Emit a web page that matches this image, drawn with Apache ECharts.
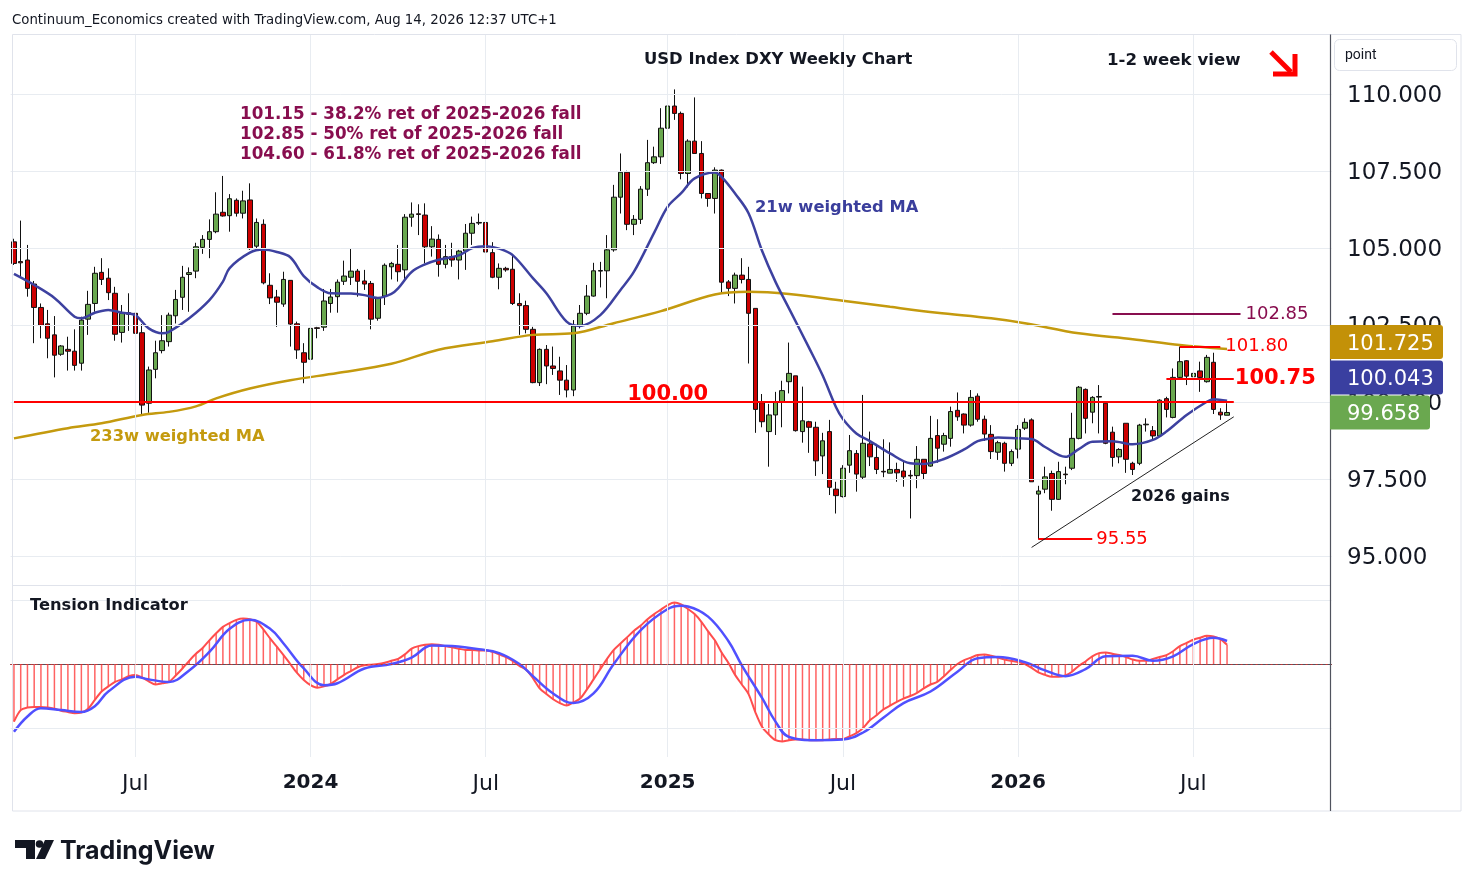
<!DOCTYPE html>
<html><head><meta charset="utf-8">
<script src="https://cdn.jsdelivr.net/npm/echarts@6/dist/echarts.min.js"></script>
<style>html,body{margin:0;padding:0;background:#fff;}#c{width:1474px;height:887px;}</style>
</head><body><div id="c"></div>
<script>
// ---------- data ----------
const firstWeek = [2023, 1, 27];   // Monday 2023-02-27 (weekly bars)
const weekCount = 196;             // visible weekly slots incl. empty right margin
const tickDates = ['2023-07-03','2024-01-01','2024-07-01','2025-01-06','2025-07-07','2026-01-05','2026-07-06'];
const tickTexts = ['Jul','2024','Jul','2025','Jul','2026','Jul'];
const priceTicks = [95, 97.5, 100, 102.5, 105, 107.5, 110];
const tensionTicks = [-1, 1];

const open = [
105.20,104.56,104.61,103.83,103.07,102.54,102.18,101.55,101.71,101.65,
101.26,102.69,103.20,104.21,104.02,103.53,102.26,102.90,102.88,102.25,
99.96,101.06,101.67,101.96,102.80,103.40,104.14,104.25,105.02,105.28,
105.53,106.16,106.05,106.55,106.13,106.56,105.06,105.77,103.79,103.41,
103.18,103.95,102.54,101.60,101.39,102.41,102.43,103.20,103.42,103.92,
104.05,104.25,103.93,103.85,102.72,103.44,104.39,104.47,104.29,106.00,
106.11,106.07,105.04,105.28,104.47,104.72,104.61,104.90,105.48,105.81,
105.83,104.85,104.05,104.34,104.31,103.20,103.13,102.36,100.63,101.71,
101.17,101.01,100.71,100.39,102.47,102.88,103.44,104.25,104.26,104.94,
106.65,107.46,105.77,105.93,106.91,107.77,107.96,108.89,109.61,109.37,
107.42,108.47,108.07,106.77,106.61,107.53,103.90,103.69,104.12,103.98,
103.04,99.98,99.04,99.58,100.01,100.66,100.85,99.04,99.36,99.18,
98.25,99.04,97.17,96.93,97.95,98.33,97.56,98.64,98.20,97.75,
97.69,97.81,97.76,97.62,97.61,98.14,97.92,98.91,98.63,98.82,
99.73,99.61,99.25,100.19,99.44,98.95,98.37,98.66,98.01,98.47,
99.15,99.42,97.01,97.17,97.68,96.84,97.66,97.85,98.82,100.41,
99.67,100.16,99.96,99.02,98.22,99.31,98.01,98.01,99.26,99.07,
98.90,100.11,99.50,100.80,101.34,100.82,101.01,100.66,101.29,99.67,
99.57];
const close = [
104.50,104.52,103.69,103.07,102.49,102.07,101.52,101.82,101.65,101.19,
102.66,103.17,104.18,103.98,103.55,102.20,102.88,102.85,102.23,99.90,
101.04,101.60,101.99,102.82,103.33,104.05,104.20,105.04,105.28,105.53,
106.10,106.04,106.60,106.13,106.53,104.98,105.83,103.87,103.38,103.24,
103.98,102.53,101.69,101.29,102.39,102.39,103.28,103.41,103.89,104.09,
104.25,103.92,103.83,102.69,103.39,104.44,104.50,104.23,106.00,106.10,
106.09,105.04,105.29,104.47,104.72,104.61,104.90,105.48,105.80,105.83,
104.87,104.05,104.34,104.29,103.20,103.13,102.36,100.63,101.71,101.17,
101.09,100.71,100.39,102.47,102.88,103.44,104.26,104.27,104.94,106.65,
107.46,105.77,105.93,106.91,107.77,107.96,108.89,109.61,109.37,107.42,
108.47,108.07,106.77,106.61,107.53,103.89,103.69,104.12,103.98,102.88,
99.76,99.36,99.58,100.01,100.37,100.93,99.07,99.39,99.18,98.09,
98.74,97.23,96.96,97.85,98.42,97.66,98.66,98.22,97.81,97.73,
97.81,97.70,97.57,97.60,98.14,97.68,98.82,98.50,98.91,99.69,
99.52,99.25,100.15,99.44,98.96,98.39,98.68,98.01,98.39,99.11,
99.34,97.41,97.11,97.57,96.84,97.74,97.64,98.82,100.48,99.47,
100.15,100.18,98.66,98.20,98.46,98.14,97.81,99.25,99.28,98.90,
100.06,99.76,100.80,101.31,100.84,100.93,100.80,101.45,99.76,99.58,
99.66];
const low = [
104.45,104.07,103.42,101.91,102.07,101.42,100.80,101.50,101.02,101.02,
101.02,102.18,102.93,103.80,103.31,101.99,101.93,102.31,102.20,99.61,
99.65,100.77,101.58,101.80,102.55,102.99,102.93,104.02,104.81,104.67,
105.48,106.02,105.53,106.02,105.96,104.94,104.94,103.82,103.18,102.44,
103.09,101.80,101.40,100.61,101.31,102.07,102.31,102.90,102.90,103.80,
103.80,103.42,103.64,102.36,102.64,103.15,103.98,103.91,103.91,105.69,
105.42,104.50,104.72,104.07,104.34,104.39,103.98,104.29,105.10,105.75,
104.83,104.02,103.66,104.23,103.15,102.18,102.23,100.61,100.52,100.58,
100.88,100.23,100.15,100.19,102.39,102.82,103.42,103.72,103.37,104.88,
106.12,105.58,105.42,105.78,106.69,107.73,107.73,107.75,109.16,107.23,
106.97,108.07,106.61,106.34,106.12,103.53,103.44,103.20,103.85,101.25,
99.00,99.18,97.90,98.93,99.18,100.28,99.04,98.68,98.35,97.60,
97.66,96.98,96.38,96.90,97.70,97.09,97.49,97.92,97.66,97.56,
97.69,97.41,97.25,96.22,97.20,97.47,97.90,98.03,98.39,98.55,
99.39,98.98,99.20,99.36,98.74,98.15,98.12,97.74,97.92,98.17,
99.09,97.41,95.54,97.04,96.47,96.82,97.33,97.79,98.79,98.98,
99.31,98.98,98.63,97.90,98.01,97.70,97.63,97.95,99.04,98.79,
98.87,99.50,99.47,100.77,100.55,100.55,100.33,100.63,99.61,99.42,
99.57];
const high = [
105.30,105.89,105.10,103.93,103.20,102.99,102.79,101.85,102.12,102.36,
102.77,103.61,104.39,104.67,104.34,103.74,103.15,103.53,103.53,102.53,
101.15,101.99,102.82,102.90,103.64,104.42,104.37,105.17,105.42,105.93,
106.81,107.34,106.75,106.61,106.86,107.10,105.96,105.93,104.18,103.64,
104.23,103.96,102.61,101.91,103.09,102.44,103.67,103.67,103.98,104.59,
104.97,104.32,104.29,103.93,103.39,104.50,104.55,105.10,106.10,106.48,
106.42,106.45,105.71,105.44,105.10,105.17,104.94,105.78,106.02,106.12,
106.04,105.19,104.50,104.39,104.81,103.53,103.29,102.44,101.74,101.85,
101.80,101.47,101.20,102.66,103.15,103.80,104.52,104.55,105.42,107.05,
108.07,107.51,106.07,107.01,108.51,108.29,109.54,109.97,110.15,109.43,
108.53,109.89,108.47,106.77,107.62,107.55,103.96,104.20,104.67,104.39,
103.04,100.26,99.94,100.33,100.69,101.93,100.85,100.50,99.39,99.36,
99.00,99.42,97.41,97.95,98.93,98.44,100.23,99.04,98.64,98.79,
98.69,98.03,98.06,97.79,98.57,98.14,99.55,99.44,99.00,99.85,
100.31,99.63,100.39,100.28,99.56,99.25,98.74,98.71,98.46,99.25,
99.47,99.47,97.28,97.90,97.77,98.06,97.90,99.65,100.52,100.44,
100.19,100.55,100.01,99.20,98.50,99.31,98.06,99.29,99.47,99.22,
100.09,100.17,101.09,101.80,101.36,101.31,101.31,101.53,101.60,99.80,
99.96];

// moving averages: [week index, value]
const ma21 = [[0,104.16],[3,103.80],[6,103.38],[9,102.77],[10,102.72],[12,102.90],[14,102.99],[16,102.90],[18,102.82],[20,102.39],[22,102.23],[23,102.28],[26,102.72],[29,103.31],[31,103.91],[32,104.35],[35,104.85],[37,104.95],[39,104.87],[41,104.70],[43,104.09],[45,103.73],[47,103.53],[50,103.52],[52,103.47],[54,103.38],[56,103.51],[57,103.69],[59,104.22],[61,104.47],[63,104.62],[66,104.76],[68,105.00],[70,105.06],[72,104.98],[74,104.77],[77,104.02],[79,103.53],[82,102.61],[84,102.47],[87,102.82],[90,103.64],[92,104.23],[95,105.50],[97,106.34],[99,106.78],[101,107.26],[104,107.45],[105,107.31],[107,106.77],[109,106.13],[111,104.91],[113,103.90],[115,103.04],[118,101.75],[120,100.86],[122,99.82],[123,99.45],[125,98.98],[127,98.73],[130,98.33],[133,98.01],[135,97.99],[138,98.15],[141,98.46],[143,98.73],[145,98.82],[146,98.85],[149,98.82],[151,98.80],[153,98.54],[156,98.22],[158,98.47],[160,98.71],[163,98.73],[166,98.63],[169,98.77],[171,99.04],[174,99.58],[177,100.01],[178,100.09],[180,100.04]];
const ma233 = [[0,98.82],[8,99.15],[13,99.31],[19,99.58],[23,99.68],[27,99.86],[30,100.12],[35,100.44],[41,100.71],[48,100.94],[56,101.24],[63,101.70],[71,101.97],[77,102.18],[83,102.23],[89,102.56],[96,102.95],[104,103.49],[109,103.58],[115,103.51],[123,103.29],[130,103.09],[137,102.90],[145,102.72],[150,102.56],[158,102.23],[166,102.04],[173,101.85],[180,101.72]];

// tension indicator (arbitrary units)
const tensionRed = [
-0.90,-0.72,-0.68,-0.67,-0.67,-0.68,-0.70,-0.73,-0.75,-0.77,
-0.76,-0.70,-0.56,-0.43,-0.35,-0.28,-0.24,-0.19,-0.17,-0.21,
-0.27,-0.32,-0.30,-0.28,-0.18,-0.07,0.05,0.16,0.25,0.37,
0.48,0.58,0.64,0.69,0.71,0.70,0.66,0.54,0.40,0.27,
0.14,0.00,-0.14,-0.25,-0.33,-0.37,-0.35,-0.31,-0.24,-0.17,
-0.11,-0.05,-0.02,-0.01,0.00,0.02,0.05,0.08,0.15,0.24,
0.28,0.30,0.31,0.30,0.28,0.26,0.24,0.22,0.22,0.21,
0.21,0.19,0.15,0.11,0.05,-0.03,-0.09,-0.22,-0.38,-0.47,
-0.55,-0.61,-0.65,-0.60,-0.54,-0.40,-0.24,-0.08,0.08,0.22,
0.32,0.42,0.52,0.60,0.70,0.78,0.85,0.92,0.96,0.93,
0.86,0.78,0.66,0.51,0.37,0.18,0.02,-0.17,-0.32,-0.47,
-0.75,-0.98,-1.10,-1.19,-1.21,-1.19,-1.18,-1.18,-1.19,-1.19,
-1.19,-1.18,-1.17,-1.17,-1.13,-1.08,-1.00,-0.88,-0.80,-0.71,
-0.65,-0.59,-0.54,-0.50,-0.45,-0.38,-0.32,-0.28,-0.19,-0.09,
0.00,0.06,0.10,0.14,0.15,0.13,0.10,0.07,0.05,0.03,
0.00,-0.06,-0.13,-0.17,-0.20,-0.20,-0.18,-0.12,-0.03,0.04,
0.12,0.17,0.18,0.16,0.14,0.11,0.07,0.05,0.05,0.08,
0.11,0.14,0.20,0.28,0.33,0.38,0.41,0.44,0.43,0.39,
0.30];
const tensionBlue = [[0,-1.06],[2,-0.82],[4,-0.69],[7,-0.72],[10,-0.75],[12,-0.66],[14,-0.43],[18,-0.20],[20,-0.24],[23,-0.28],[26,-0.10],[29,0.19],[32,0.55],[35,0.69],[38,0.55],[40,0.32],[43,-0.07],[46,-0.33],[48,-0.30],[52,-0.07],[56,0.00],[59,0.10],[62,0.29],[65,0.28],[69,0.23],[72,0.17],[75,0.00],[77,-0.19],[80,-0.46],[83,-0.61],[86,-0.46],[89,0.00],[93,0.53],[97,0.86],[99,0.91],[100,0.90],[103,0.74],[106,0.36],[108,-0.02],[111,-0.53],[113,-0.90],[115,-1.14],[119,-1.19],[123,-1.18],[126,-1.07],[129,-0.84],[132,-0.61],[136,-0.43],[140,-0.12],[143,0.09],[146,0.11],[150,0.03],[153,-0.10],[156,-0.19],[159,-0.08],[162,0.12],[166,0.13],[169,0.05],[172,0.12],[175,0.31],[178,0.41],[180,0.36]];

// annotation levels: [startWeek, endWeek, value, label]
const levelLines = [
  [0, 181, 100.00, ''],
  [171, 181, 100.75, '100.75'],
  [173, 179, 101.80, '101.80'],
  [152, 160, 95.55, '95.55'],
  [163, 182, 102.85, '102.85']
];
const trendLine = [[151, 95.28], [181, 99.52]];
const lastValues = { ma233: 101.725, ma21: 100.043, close: 99.658 };
const fibText = ['101.15 - 38.2% ret of 2025-2026 fall','102.85 - 50% ret of 2025-2026 fall','104.60 - 61.8% ret of 2025-2026 fall'];

// ---------- build ----------
const categories = [];
const t0 = Date.UTC(firstWeek[0], firstWeek[1], firstWeek[2]);
for (let i = 0; i < weekCount; i++) categories.push(new Date(t0 + i * 7 * 86400000).toISOString().slice(0, 10));
const candles = open.map((o, i) => [o, close[i], low[i], high[i]]);

const FONT = 'DejaVu Sans';
const RED = '#ff0000', MAROON = '#880e4f';
const gridColor = '#e8ecf1';

const levelStyles = [
  {color: RED, label: null, dist: 5},
  {color: RED, label: {fontSize: 21, fontWeight: 'bold'}, dist: 1},
  {color: RED, label: {fontSize: 18}, dist: 5},
  {color: RED, label: {fontSize: 18}, dist: 4},
  {color: MAROON, label: {fontSize: 18}, dist: 5}
];
const levelData = levelLines.map((l, k) => {
  const st = levelStyles[k];
  return [
    {coord: [l[0], l[2]], lineStyle: {color: st.color, width: 2, type: 'solid'},
     label: st.label ? Object.assign({show: true, position: 'end', distance: st.dist, formatter: l[3], color: st.color, fontFamily: FONT}, st.label) : {show: false}},
    {coord: [l[1], l[2]]}
  ];
});
levelData.push([{coord: trendLine[0], lineStyle: {color: '#222', width: 1, type: 'solid'}, label: {show: false}}, {coord: trendLine[1]}]);

const chart = echarts.init(document.getElementById('c'), null, {renderer: 'canvas'});
const option = {
  animation: false,
  backgroundColor: '#ffffff',
  grid: [
    {left: 10.6, right: 142.5, top: 35, height: 550},
    {left: 10.6, right: 142.5, top: 586, height: 171}
  ],
  xAxis: [
    {gridIndex: 0, type: 'category', data: categories, boundaryGap: true,
     axisLine: {show: false}, axisTick: {show: false}, axisLabel: {show: false}, splitLine: {show: false}},
    {gridIndex: 1, type: 'category', data: categories, boundaryGap: true,
     axisLine: {show: true, lineStyle: {color: '#50535e', width: 1.2}}, axisTick: {show: false}, splitLine: {show: false},
     axisLabel: {
       interval: (i, v) => tickDates.indexOf(v) >= 0, margin: 16, color: '#131722', fontFamily: FONT,
       formatter: v => { const t = tickTexts[tickDates.indexOf(v)] || ''; return /^\d{4}$/.test(t) ? '{yr|' + t + '}' : '{mo|' + t + '}'; },
       rich: {yr: {fontSize: 20, fontWeight: 'bold', fontFamily: FONT, color: '#131722'}, mo: {fontSize: 22, fontFamily: FONT, color: '#131722'}}
     }}
  ],
  yAxis: [
    {gridIndex: 0, type: 'value', min: 94.059, max: 111.916, position: 'right', show: true,
     axisLine: {show: false}, axisTick: {show: false}, axisLabel: {show: false}, splitLine: {show: false}},
    {gridIndex: 1, type: 'value', min: -1.453, max: 1.219, position: 'right', show: true,
     axisLine: {show: false}, axisTick: {show: false}, axisLabel: {show: false}, splitLine: {show: false}}
  ],
  series: [
    { // main pane grid lines
      type: 'line', xAxisIndex: 0, yAxisIndex: 0, data: [], z: 1, silent: true,
      markLine: {silent: true, symbol: 'none', animation: false, label: {show: false},
        lineStyle: {color: gridColor, width: 1, type: 'solid'},
        data: priceTicks.map(v => ({yAxis: v})).concat(tickDates.map(d => ({xAxis: d})))
      }
    },
    {
      type: 'candlestick', xAxisIndex: 0, yAxisIndex: 0, data: candles, barWidth: 5, z: 3, clip: true,
      itemStyle: {color: '#6aa84f', color0: '#cc0000', borderColor: '#111', borderColor0: '#111', borderColorDoji: '#111', borderWidth: 1}
    },
    {type: 'line', xAxisIndex: 0, yAxisIndex: 0, data: ma233, smooth: 0.35, showSymbol: false, z: 4,
     lineStyle: {color: '#c49a0e', width: 2.5}},
    {type: 'line', xAxisIndex: 0, yAxisIndex: 0, data: ma21, smooth: 0.35, showSymbol: false, z: 4,
     lineStyle: {color: '#3d41a0', width: 2.5}},
    { // annotations
      type: 'line', xAxisIndex: 0, yAxisIndex: 0, data: [], z: 6, silent: true,
      markLine: {silent: true, symbol: 'none', animation: false, data: levelData},
      markPoint: {silent: true, animation: false, data: [
        {coord: [97, 100], symbol: 'circle', symbolSize: 1, itemStyle: {color: 'rgba(0,0,0,0)'},
         label: {show: true, position: 'inside', offset: [0, -7], formatter: '100.00', color: RED, fontSize: 21, fontWeight: 'bold', fontFamily: FONT}}
      ]}
    },
    { // indicator grid lines
      type: 'line', xAxisIndex: 1, yAxisIndex: 1, data: [], z: 1, silent: true,
      markLine: {silent: true, symbol: 'none', animation: false, label: {show: false},
        lineStyle: {color: gridColor, width: 1, type: 'solid'},
        data: tensionTicks.map(v => ({yAxis: v})).concat(tickDates.map(d => ({xAxis: d})))}
    },
    {type: 'bar', xAxisIndex: 1, yAxisIndex: 1, data: tensionRed, barWidth: 1.5, z: 2, silent: true,
     itemStyle: {color: 'rgba(255,70,70,0.85)'}},
    {type: 'line', xAxisIndex: 1, yAxisIndex: 1, data: tensionRed, smooth: 0.3, showSymbol: false, z: 3,
     lineStyle: {color: '#ff4d4d', width: 2}},
    {type: 'line', xAxisIndex: 1, yAxisIndex: 1, data: tensionBlue, smooth: 0.4, showSymbol: false, z: 4,
     lineStyle: {color: '#5050ff', width: 2.5}},
    { // zero line
      type: 'line', xAxisIndex: 1, yAxisIndex: 1, data: [], z: 5, silent: true,
      markLine: {silent: true, symbol: 'none', animation: false, label: {show: false},
        lineStyle: {color: '#cc3333', width: 1, type: [2, 3]}, data: [{yAxis: 0}]}
    }
  ]
};
chart.setOption(option);

// ---------- static decorations, price-scale labels & badges ----------
function txt(text, x, y, size, color, weight, family, align) {
  return {type: 'text', z: 50, silent: true, style: {text, x, y, fill: color, fontSize: size, fontWeight: weight || 'normal',
    fontFamily: family || FONT, textAlign: align || 'left', textVerticalAlign: 'middle', align: align || 'left', verticalAlign: 'middle'}};
}
const g = [];
g.push({type: 'rect', z: 40, silent: true, shape: {x: 12.5, y: 34.5, width: 1448.5, height: 776.5}, style: {fill: 'none', stroke: '#e0e3eb', lineWidth: 1}});
g.push({type: 'line', z: 40, silent: true, shape: {x1: 12, y1: 585.5, x2: 1330, y2: 585.5}, style: {stroke: '#e0e3eb', lineWidth: 1}});
g.push({type: 'line', z: 60, silent: true, shape: {x1: 1330.5, y1: 34.5, x2: 1330.5, y2: 811}, style: {stroke: '#50535e', lineWidth: 1.2}});
g.push(txt('Continuum_Economics created with TradingView.com, Aug 14, 2026 12:37 UTC+1', 12, 21, 13.3, '#131722'));
g.push(txt('USD Index DXY Weekly Chart', 644, 60, 16.4, '#131722', 'bold'));
g.push(txt('1-2 week view', 1107, 61, 16.6, '#131722', 'bold'));
fibText.forEach((t, k) => g.push(txt(t, 240, 115 + 20 * k, 16.75, MAROON, 'bold')));
g.push(txt('21w weighted MA', 755, 208, 16.3, '#3a3e9c', 'bold'));
g.push(txt('233w weighted MA', 90, 437, 16.3, '#c49a0e', 'bold'));
g.push(txt('2026 gains', 1131, 497, 16, '#131722', 'bold'));
g.push(txt('Tension Indicator', 30, 606, 16.3, '#131722', 'bold'));
// price scale labels, placed through the y-axis scale
priceTicks.forEach(v => {
  const y = chart.convertToPixel({yAxisIndex: 0}, v);
  g.push(Object.assign(txt(v.toFixed(3), 1347, y + 2, 23, '#131722'), {z: 45}));
});
// arrow
g.push({type: 'line', z: 50, silent: true, shape: {x1: 1271, y1: 52, x2: 1291, y2: 72}, style: {stroke: '#ff0000', lineWidth: 5, lineCap: 'butt'}});
g.push({type: 'polyline', z: 50, silent: true, shape: {points: [[1273, 74], [1295, 74], [1295, 54]]}, style: {stroke: '#ff0000', lineWidth: 5, fill: 'none', lineJoin: 'miter'}});
// point box
g.push({type: 'rect', z: 50, silent: true, shape: {x: 1334.5, y: 39.5, width: 122, height: 31, r: 5}, style: {fill: '#fff', stroke: '#e0e3eb', lineWidth: 1}});
g.push(txt('point', 1345, 55, 14, '#131722', 'normal', 'Roboto'));
// TradingView logo
g.push({type: 'polygon', z: 50, silent: true, shape: {points: [[15, 840], [35, 840], [35, 859], [26, 859], [26, 848], [15, 848]]}, style: {fill: '#131722'}});
g.push({type: 'circle', z: 50, silent: true, shape: {cx: 39.5, cy: 844, r: 3.8}, style: {fill: '#131722'}});
g.push({type: 'polygon', z: 50, silent: true, shape: {points: [[45, 840], [54, 840], [45, 859], [36, 859]]}, style: {fill: '#131722'}});
g.push(txt('TradingView', 60, 851, 25, '#131722', 'bold', 'Inter'));

// value badges on the price scale, positioned by the axis scale and stacked upward
const yClose = chart.convertToPixel({yAxisIndex: 0}, lastValues.close);
const yMa21 = Math.min(chart.convertToPixel({yAxisIndex: 0}, lastValues.ma21), yClose - 35);
const yMa233 = Math.min(chart.convertToPixel({yAxisIndex: 0}, lastValues.ma233), yMa21 - 35.5);
[[yMa233, lastValues.ma233, '#c39108', 113], [yMa21, lastValues.ma21, '#3a3fa0', 113], [yClose, lastValues.close, '#6aa84f', 100]].forEach(b => {
  g.push({type: 'rect', z: 70, silent: true, shape: {x: 1330, y: b[0] - 17, width: b[3], height: 34, r: [0, 3, 3, 0]}, style: {fill: b[2]}});
  g.push(Object.assign(txt(b[1].toFixed(3), 1347, b[0] + 2, 21, '#ffffff'), {z: 71}));
});
chart.setOption({graphic: {elements: g}});
</script></body></html>
